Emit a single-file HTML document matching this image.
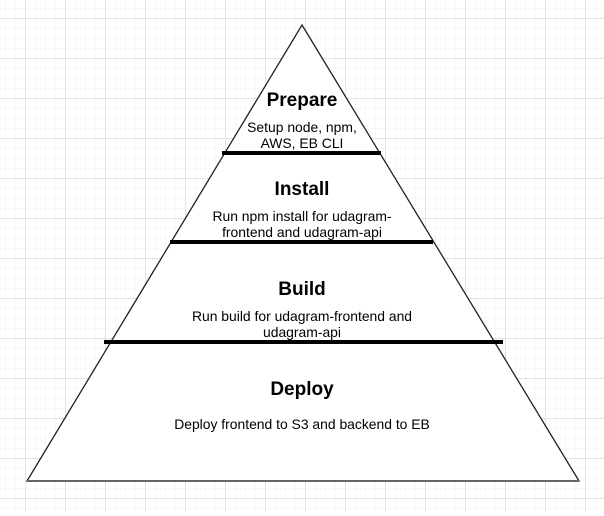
<!DOCTYPE html><html><head><style>body{margin:0;background:#fff}</style></head><body>
<svg width="604" height="511" xmlns="http://www.w3.org/2000/svg" font-family="Liberation Sans, sans-serif">
<defs>
<pattern id="m" x="25" y="18" width="10" height="10" patternUnits="userSpaceOnUse"><path d="M0 0H10M0 0V10" stroke="#f0f0f0" stroke-width="1" fill="none"/></pattern>
<pattern id="M" x="25" y="18" width="40" height="40" patternUnits="userSpaceOnUse"><path d="M0 0.5H40M0.5 0V40" stroke="#e2e2e2" stroke-width="1" fill="none"/></pattern>
</defs>
<rect width="604" height="511" fill="url(#m)"/>
<rect width="604" height="511" fill="url(#M)"/>
<polygon points="302,25 579,481 27,481" fill="#fff" stroke="#222" stroke-width="1.3"/>
<line x1="27" y1="481" x2="579" y2="481" stroke="#666" stroke-width="2"/>
<g stroke="#000" stroke-width="4">
<line x1="222" y1="153" x2="381" y2="153"/>
<line x1="170" y1="242" x2="433" y2="242"/>
<line x1="104" y1="342" x2="503" y2="342"/>
</g>
<g text-anchor="middle" fill="#000">
<text x="302" y="106" font-size="19" font-weight="bold">Prepare</text>
<text x="302" y="132" font-size="13.9">Setup node, npm,</text>
<text x="302" y="148" font-size="13.9">AWS, EB CLI</text>
<text x="302" y="195" font-size="19" font-weight="bold">Install</text>
<text x="302" y="221" font-size="13.9">Run npm install for udagram-</text>
<text x="302" y="237" font-size="13.9">frontend and udagram-api</text>
<text x="302" y="295" font-size="19" font-weight="bold">Build</text>
<text x="302" y="321" font-size="13.9">Run build for udagram-frontend and</text>
<text x="302" y="337" font-size="13.9">udagram-api</text>
<text x="302" y="395" font-size="19" font-weight="bold">Deploy</text>
<text x="302" y="429" font-size="13.9">Deploy frontend to S3 and backend to EB</text>
</g>
</svg>
</body></html>
